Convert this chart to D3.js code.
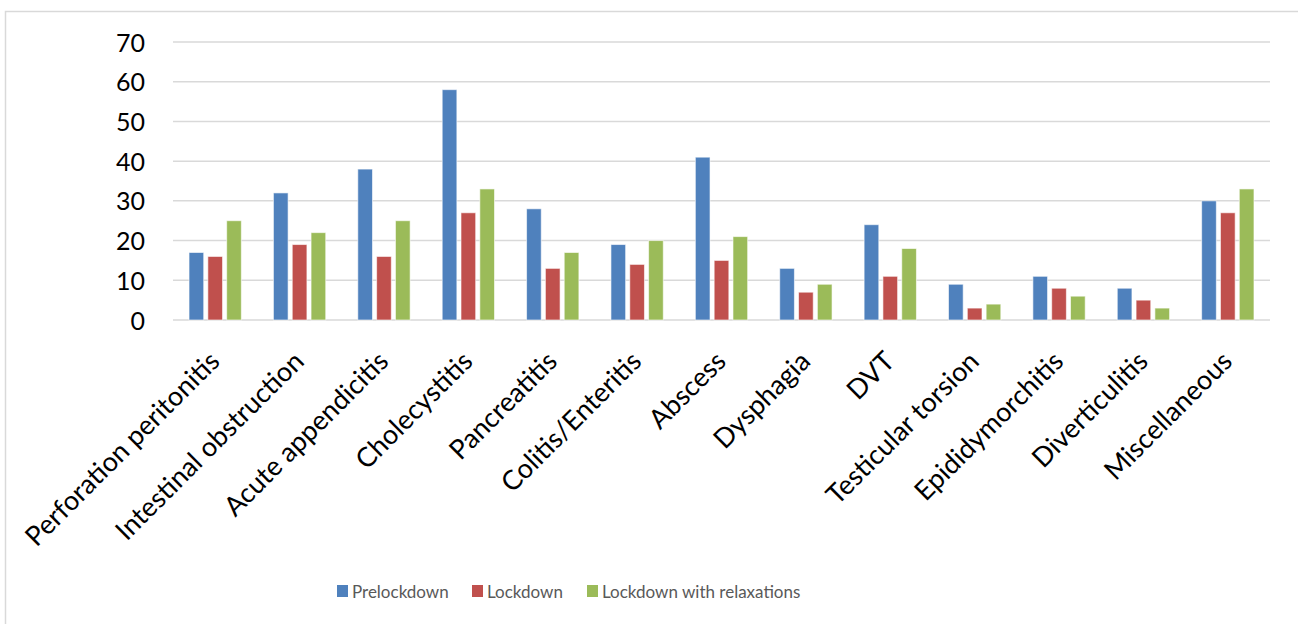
<!DOCTYPE html>
<html><head><meta charset="utf-8">
<script src="https://cdn.jsdelivr.net/npm/d3@7"></script>
<style>body{margin:0;background:#fff;}svg{display:block;}</style>
</head><body>
<svg id="c" width="1298" height="624"></svg>
<script>
const categories = ["Perforation peritonitis","Intestinal obstruction","Acute appendicitis","Cholecystitis","Pancreatitis","Colitis/Enteritis","Abscess","Dysphagia","DVT","Testicular torsion","Epididymorchitis","Diverticulitis","Miscellaneous"];
const prelockdown = [17,32,38,58,28,19,41,13,24,9,11,8,30];
const lockdown = [16,19,16,27,13,14,15,7,11,3,8,5,27];
const relaxations = [25,22,25,33,17,20,21,9,18,4,6,3,33];
const seriesNames = ["Prelockdown","Lockdown","Lockdown with relaxations"];
const yTicks = [0,10,20,30,40,50,60,70];

const colors = ["#4f81bd","#c0504d","#9bbb59"];
const seriesData = [prelockdown, lockdown, relaxations];
const svg = d3.select("#c");
const font = "Lato, 'Noto Sans', sans-serif";

svg.append("rect").attr("x",5.5).attr("y",11.5).attr("width",1300).attr("height",700)
  .attr("fill","none").attr("stroke","#d9d9d9").attr("stroke-width",1.5);

const x0 = d3.scaleBand().domain(categories).range([173,1270]).paddingInner(0.38).paddingOuter(0.19);
const x1 = d3.scaleBand().domain([0,1,2]).range([0,x0.bandwidth()]).paddingInner(0.22);
const y = d3.scaleLinear().domain([0,70]).range([320,42]);

// gridlines
svg.append("g").selectAll("line").data(yTicks).join("line")
  .attr("x1",173).attr("x2",1270).attr("y1",d=>y(d)).attr("y2",d=>y(d))
  .attr("stroke","#d9d9d9").attr("stroke-width",1.5);

// y axis labels
const yAxis = d3.axisLeft(y).tickValues(yTicks).tickSize(0).tickPadding(0);
const ya = svg.append("g").attr("transform","translate(145,0)").call(yAxis);
ya.select(".domain").remove();
ya.selectAll("text").attr("font-family",font).attr("font-size",25).attr("fill","#000").attr("dy","0.36em");

// bars
const groups = svg.append("g").selectAll("g").data(categories).join("g")
  .attr("transform",d=>`translate(${x0(d)},0)`);
groups.selectAll("rect").data((d,i)=>seriesData.map((s,k)=>({k,v:s[i]}))).join("rect")
  .attr("x",d=>x1(d.k)).attr("width",x1.bandwidth())
  .attr("y",d=>y(d.v)).attr("height",d=>y(0)-y(d.v))
  .attr("fill",d=>colors[d.k]).attr("stroke","rgba(255,255,255,0.6)").attr("stroke-width",1);

// x axis labels
svg.append("g").selectAll("text").data(categories).join("text")
  .attr("transform",d=>`translate(${x0(d)+x0.bandwidth()/2+6},363) rotate(-45)`)
  .attr("text-anchor","end")
  .attr("font-family",font).attr("font-size",27).attr("fill","#000")
  .text(d=>d);

// legend
const legX = [337,472,587];
const leg = svg.append("g").selectAll("g").data(seriesNames).join("g")
  .attr("transform",(d,i)=>`translate(${legX[i]},585)`);
leg.append("rect").attr("width",11).attr("height",12).attr("fill",(d,i)=>colors[i]);
leg.append("text").attr("x",15).attr("y",6.5).attr("dy","0.36em")
  .attr("font-family",font).attr("font-size",17).attr("fill","#595959").text(d=>d);
</script>
</body></html>
